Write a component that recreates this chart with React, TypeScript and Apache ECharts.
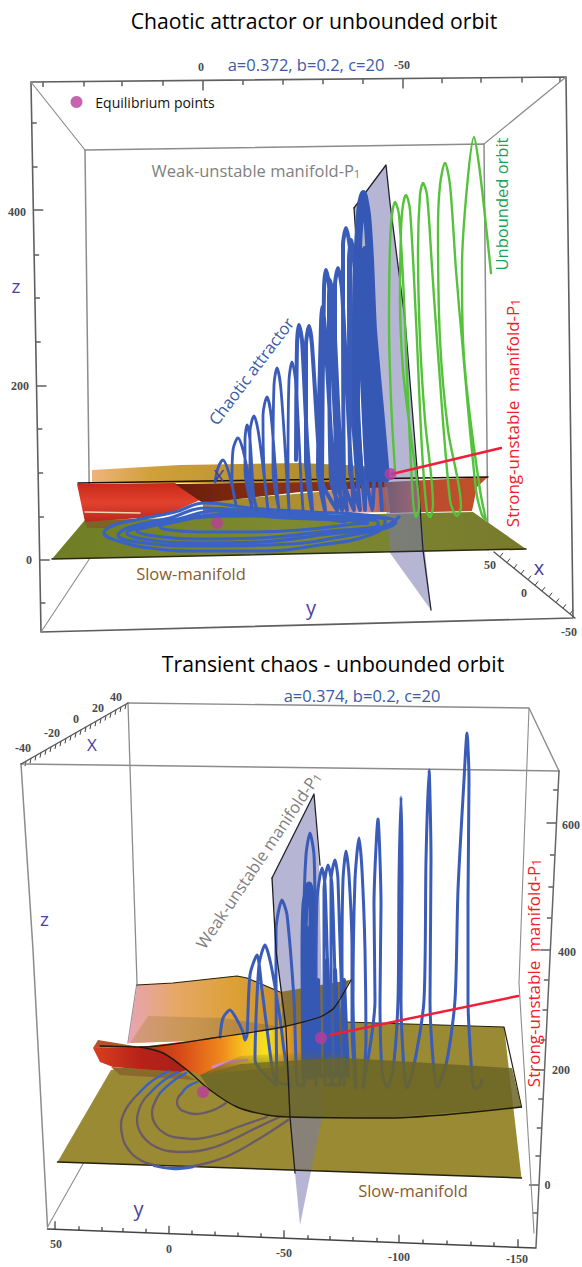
import React, { useEffect, useRef } from "react";
import * as echarts from "echarts";

type P = number[];

// ---------- tick labels and annotations ----------
const titleTop = "Chaotic attractor or unbounded orbit";
const titleBottom = "Transient chaos - unbounded orbit";
const paramsTop = "a=0.372, b=0.2, c=20";
const paramsBottom = "a=0.374, b=0.2, c=20";

// ---------- upper panel, projected (u, v) ----------
const topChaoticOrbit: P[] = [
  [215,482],[218,468],[223,460],[228,470],[233,490],[236,505],
  [232,480],[233,450],[238,438],[243,450],[248,475],[252,508],
  [245,470],[245,440],[247,425],[250,440],[254,500],[257,510],
  [250,470],[250,432],[254,416],[258,430],[264,475],[268,510],
  [264,470],[263,415],[267,397],[271,415],[277,490],[279,510],
  [273,470],[274,385],[277,368],[281,390],[287,480],[289,510],
  [288,470],[289,380],[292,362],[296,385],[301,480],[303,510],
];
const topThickOrbit: P[] = [
  [296,460],[297,345],[299,325],[302,340],[307,440],[312,510],
  [306,460],[306,345],[309,326],[312,345],[320,470],[325,510],
  [318,470],[321,325],[322,307],[325,330],[333,470],[337,510],
  [322,480],[324,290],[326,270],[329,285],[336,440],[342,510],
  [331,480],[329,300],[330,280],[333,300],[341,460],[347,510],
  [336,480],[335,285],[338,268],[342,290],[350,450],[354,510],
  [344,480],[343,245],[346,228],[350,250],[352,400],[360,510],
  [350,470],[349,260],[351,240],[355,270],[358,420],[365,510],
  [365,470],[372,510],[376,440],[382,510],
];
const topDenseOrbit: P[] = [
  [360,482],[356,400],[356,330],[357,270],[360,215],[363,194],[367,215],[370,260],[373,330],[381,420],[386,478],
  [380,478],[373,400],[368,320],[364,250],[362,320],[365,400],[370,478],[375,478],[368,380],[365,300],
];
const topSpiral: P[] = [
  [399,517],[370,535],[320,545],[260,551],[200,551],[150,548],[115,540],[104,533],[112,526],[140,519],[175,512],[205,503],[250,508],[310,512],[365,515],
  [396,522],[340,537],[270,545],[200,546],[145,543],[118,535],[130,527],[170,518],[205,508],[260,512],[330,516],[385,520],
  [385,524],[320,535],[260,542],[200,543],[150,540],[127,533],[142,527],[178,519],[215,511],[270,515],[335,518],[378,522],
  [378,525],[320,532],[260,538],[200,539],[155,536],[137,531],[152,526],[188,518],[228,514],[285,518],[340,520],[368,523],
  [355,524],[300,530],[250,532],[200,532],[170,530],[160,527],[175,522],[205,517],[250,516],[310,518],[345,522],
];
const topUnboundedOrbit: P[] = [
  [395,470],[391,400],[389,320],[390,245],[392,215],[395,202],[399,215],[404,300],[408,400],[413,500],[416,517],[419,508],
  [410,430],[403,370],[400,300],[401,230],[403,205],[406,195],[410,210],[416,320],[422,450],[427,512],[430,517],[433,505],
  [425,420],[420,340],[418,250],[420,195],[423,183],[427,195],[432,267],[437,340],[450,500],[457,516],[461,507],
  [448,430],[440,340],[438,230],[440,185],[445,163],[450,185],[456,270],[462,340],[476,490],[482,515],[486,520],[480,490],
  [468,400],[463,340],[462,267],[467,187],[474,137],[479,165],[484,207],[491,273],
];
const topPlane: P[] = [[52,559],[526,549],[473,512],[85,520]];
const topGold: P[] = [[92,470],[92,483],[388,483],[388,467],[300,463],[180,465]];
const topBelow: P[] = [[203,502],[388,486],[390,512],[203,515]];
const topLobe: P[] = [[77,484],[175,483],[200,500],[173,512],[140,518],[85,522]];
const topStrip: P[] = [[85,522],[135,519],[108,528],[87,528]];
const topWedge: P[] = [[175,484],[388,481],[388,487],[300,492],[203,503]];
const topRightRed: P[] = [[387,482],[488,477],[477,487],[472,511],[390,513]];
const topWeak: P[] = [[354,208],[386,165],[390,203],[405,320],[419,493],[431,610],[390,553],[383,470],[358,267]];
const topWeakEdgeA: P[] = [[354,208],[386,165],[390,203],[405,320],[419,493],[423,550],[431,610]];
const topWeakEdgeB: P[] = [[354,208],[358,267]];
const topFold: P[] = [[78,483],[280,480],[488,477]];
const topPlaneEdge: P[] = [[52,559],[526,549]];
const topEquilibria: P[] = [[76.5,102],[390.5,474],[217,523]];
const topStrongLine: P[] = [[392,474],[501,448]];
const topOuter: P[] = [[31,82],[566,77],[573,618],[41,632],[31,82]];
const topInner: P[] = [[85,150],[484,144],[488,550]];
const topInnerLeft: P[] = [[85,150],[90,553]];
const topDiagA: P[] = [[31,82],[85,150]];
const topDiagB: P[] = [[566,77],[484,144]];
const topDiagC: P[] = [[41,632],[90,558]];
const topZTickV = [123,167,210,255,298,342,386,429,473,517,560,603];
const topZTickMajor = [210,386,560];
const topUTick = [43,84,122,163,203,243,283,323,363,403,442,481,522,560];
const topUTickMajor = [203,403];
const topXAxis: P[] = [[494,552],[575,618]];

// ---------- lower panel ----------
const botOrbit: P[] = [
  [220,1037],[223,1018],[230,1010],[236,1018],[243,1032],[245,1040],
  [247,1035],[250,975],[257,955],[262,990],[272,1067],[276,1085],
  [255,1060],[259,965],[265,945],[271,965],[280,1018],[284,1050],[290,1085],
  [277,1080],[276,930],[282,900],[287,915],[294,1000],[298,1085],
  [304,1085],[304,920],[306,855],[310,833],[314,855],[315,920],[316,1085],
  [316,1000],[317,900],[322,868],[325,885],[329,1010],[333,1085],
  [325,1085],[324,890],[328,865],[332,885],[336,1010],[340,1085],
  [332,1085],[331,880],[335,860],[338,880],[344,1085],
  [342,960],[343,880],[346,851],[349,875],[352,950],[352,1030],[356,1088],
  [353,1000],[355,880],[359,838],[362,870],[365,950],[366,1040],[363,1088],
  [375,1000],[374,905],[378,819],[381,905],[380,1000],[382,1070],[387,1088],
  [393,1070],[398,1000],[399,880],[401,797],[402,880],[401,1000],[404,1070],[407,1088],
  [415,1060],[424,1000],[426,860],[429,770],[431,860],[430,1000],[433,1060],[437,1088],
  [447,1060],[455,1000],[458,890],[464,780],[467,733],[469,780],[468,900],[468,1000],[472,1077],[474,1088],[478,1088],[482,1080],
];
const botDense: P[] = [
  [305,1076],[304,960],[305,905],[309,885],[312,905],[312,960],[311,1076],[308,1076],[308,930],
];
const botCluster: P[] = [
  [316,1076],[318,980],[320,1076],[326,1076],[327,960],[330,1076],[336,1076],[335,970],[340,1076],[345,1076],[344,980],[348,1076],
];
const botRingsDim: P[][] = [
  [[182,1093],[178,1098],[177,1103],[180,1109],[186,1112],[195,1114],[204,1113],[216,1109],[226,1103]],
  [[160,1093],[155,1102],[152,1113],[154,1122],[160,1130],[170,1136],[182,1138],[195,1139],[208,1137],[223,1133],[238,1127],[267,1117]],
  [[150,1093],[143,1101],[139,1110],[137,1120],[139,1130],[146,1140],[156,1147],[168,1151],[182,1152],[198,1151],[215,1147],[234,1139],[252,1130],[288,1113]],
  [[139,1093],[130,1103],[124,1113],[121,1125],[122.5,1137],[128,1149],[137,1158],[154,1165],[174,1168],[199,1165],[223,1158],[238,1151],[252,1143],[270,1132],[288,1120]],
];
const botRingsBlue: P[][] = [
  [[182,1093],[187,1087],[197,1082]],
  [[160,1093],[172,1082],[186,1073]],
  [[150,1093],[163,1081],[178,1072]],
  [[139,1093],[152,1081],[169,1071]],
  [[154,1166],[174,1169],[193,1167]],
];
const botPlane: P[] = [[57.5,1162],[521.5,1178],[504,1027],[345,1022],[111,1070]];
const botBackRight: P[] = [[280,992],[350,980],[337,1003],[323,1017],[283,1028]];
const botBack: P[] = [[137,985],[173,983],[237,976],[247,978],[280,992],[283,1028],[220,1040],[128,1043]];
const botBackInner: P[] = [[148,1016],[223,1018],[283,1027],[220,1040],[130,1043]];
const botHot: P[] = [[140,1047],[213,1038],[283,1027],[320,1017],[340,1000],[345,1060],[200,1075],[187,1070]];
const botLobe: P[] = [[93,1048],[140,1047],[163,1053],[187,1070],[180,1072],[113,1067],[100,1062]];
const botFlap: P[] = [[98,1040],[128,1045],[140,1047],[93,1048]];
const botStrip: P[] = [[111,1067],[180,1072],[196,1080],[120,1075]];
const botFade: P[] = [[200,1075],[240,1056],[345,1050],[345,1060],[240,1064]];
const botBand: P[] = [[200,1075],[240,1064],[270,1062],[343,1058],[380,1060],[512,1068],[521.5,1107],[387,1118],[290,1117],[267,1115],[237,1107],[210,1090]];
const botWeak: P[] = [[272,878],[314,794],[319,867],[322,1000],[321,1122],[300,1225],[295,1173],[290,1117]];
const botWeakEdgeA: P[] = [[272,878],[314,794],[320,865]];
const botWeakEdgeB: P[] = [[272,878],[276,950],[286,1028],[290,1117],[295,1173]];
const botSCurve: P[] = [[140,1047],[163,1053],[187,1070],[210,1090],[237,1107],[267,1115],[290,1117],[387,1118],[521.5,1107]];
const botFoldTop: P[] = [[100,1046],[143,1047],[213,1038],[283,1027],[320,1017],[334,1008],[351,980]];
const botBackTop: P[] = [[137,985],[173,983],[237,976],[247,978],[280,992]];
const botPlaneBottom: P[] = [[57.5,1162],[521.5,1178]];
const botPlaneTop: P[] = [[345,1022],[504,1027],[521.5,1107]];
const botPink: P[] = [[213,1067],[228,1062],[247,1060]];
const botEquilibria: P[] = [[321,1038],[203,1092]];
const botStrongLine: P[] = [[330,1035],[518,996]];
const botFrontFrame: P[] = [[21,764],[559,771]];
const botBackFrame: P[] = [[128,703],[529,708],[559,771]];
const botLeft: P[] = [[21,764],[33,950],[47.5,1227]];
const botRight: P[] = [[559,771],[536,1247]];
const botBackLeft: P[] = [[128,703],[130,767],[137,983],[128,1043]];
const botBackRightEdge: P[] = [[529,708],[519,983],[534,1233]];
const botBottom: P[] = [[47.5,1229],[536,1248]];
const botDiag: P[] = [[47.5,1227],[83.5,1163]];
const botXAxis: P[] = [[21,764],[128,703]];
const botZTickV = [790,823,855,887,918,950,980,1010,1040,1070,1099,1128,1156,1185,1213];
const botZTickMajor = [823,950,1070,1185];
const botUTick = [55,79,102,123,146,169,192,215,238,261,284,308,330,353,377,399,423,447,471,494,518];
const botUTickMajor = [55,169,284,399,518];

const PURPLE = "#4a3fa0";
const BLUE = "#3a5cb8";
const AXISC = "#8c8c8c";

const line = (data: P[], color: string, width: number, z: number, smooth: number | boolean = false, opacity = 1) => ({
  type: "line", data, symbol: "none", smooth, z, silent: true,
  lineStyle: { color, width, opacity, cap: "round", join: "round" },
});
const poly = (pts: P[], fill: any, z: number, opacity = 1) => ({
  type: "custom", coordinateSystem: "cartesian2d", data: pts, z, silent: true,
  encode: { x: 0, y: 1 },
  renderItem: (params: any, api: any) => {
    if (params.dataIndex !== 0) return null;
    return { type: "polygon", shape: { points: pts.map((p) => api.coord(p)) }, style: { fill, opacity } };
  },
});
const segs = (data: P[], color: string, width: number, z: number) => ({
  type: "custom", coordinateSystem: "cartesian2d", data, z, silent: true,
  encode: { x: [0, 2], y: [1, 3] },
  renderItem: (_: any, api: any) => {
    const a = api.coord([api.value(0), api.value(1)]);
    const b = api.coord([api.value(2), api.value(3)]);
    return { type: "line", shape: { x1: a[0], y1: a[1], x2: b[0], y2: b[1] }, style: { stroke: color, lineWidth: width } };
  },
});
const dots = (data: P[]) => ({
  type: "scatter", data, symbol: "circle", symbolSize: 12, z: 30, silent: true,
  itemStyle: { color: "#b93c9c" },
});
const grad = (stops: [number, string][], vertical = false) =>
  new echarts.graphic.LinearGradient(0, 0, vertical ? 0 : 1, vertical ? 1 : 0, stops.map(([offset, color]) => ({ offset, color })));

const lerp = (a: P, b: P, v: number) => a[0] + ((b[0] - a[0]) * (v - a[1])) / (b[1] - a[1]);
const lerpY = (a: P, b: P, u: number) => a[1] + ((b[1] - a[1]) * (u - a[0])) / (b[0] - a[0]);

const txt = (text: string, x: number, y: number, size: number, fill: string, extra: any = {}) => ({
  type: "text", x, y, z: 50, silent: true, rotation: extra.rotation || 0,
  style: {
    text, fill, font: `${extra.weight || "normal"} ${size}px ${extra.family || "'Open Sans', sans-serif"}`,
    align: "center", verticalAlign: "middle", rich: extra.rich,
  },
});
const sub = (text: string, x: number, y: number, size: number, fill: string, rotation: number) =>
  txt(`{m|${text}}{s|1}`, x, y, size, fill, {
    rotation,
    rich: {
      m: { fontSize: size, fill, fontFamily: "'Open Sans', sans-serif" },
      s: { fontSize: size - 5, fill, fontFamily: "'Open Sans', sans-serif", verticalAlign: "bottom", padding: [6, 0, 0, 0] },
    },
  });
const num = (t: string, x: number, y: number) => txt(t, x, y, 12, "#4a4a4a", { family: "'Liberation Serif', serif", weight: "bold" });

export default function App() {
  const ref = useRef<HTMLDivElement>(null);
  useEffect(() => {
    const chart = echarts.init(ref.current!, undefined, { renderer: "svg" });

    const topZTicks = topZTickV.map((v) => {
      const u = lerp(topOuter[3], topOuter[0], v);
      return [u, v, u + (topZTickMajor.includes(v) ? 10 : 5), v];
    });
    const topUTicks = topUTick.map((u) => {
      const v = lerpY(topOuter[0], topOuter[1], u);
      return [u, v, u, v + (topUTickMajor.includes(u) ? 10 : 5)];
    });
    const topXTicks = [500,507,514,521,528,535,542,549,556,563,570].map((u) => {
      const v = lerpY(topXAxis[0], topXAxis[1], u);
      return [u, v, u + 3, v - 4];
    });
    const botZTicks = botZTickV.map((v) => {
      const u = lerp(botRight[0], botRight[1], v);
      return [u, v, u - (botZTickMajor.includes(v) ? 10 : 5), v];
    });
    const botUTicks = botUTick.map((u) => {
      const v = lerpY(botBottom[0], botBottom[1], u);
      return [u, v, u, v - (botUTickMajor.includes(u) ? 8 : 4)];
    });
    const botXTicks = [26,31,36,41,46,51,56,61,66,71,76,81,86,91,96,101,106,111,116,121,126].map((u) => {
      const v = lerpY(botXAxis[0], botXAxis[1], u);
      return [u, v, u - 1, v + 5];
    });

    const series: any[] = [
      // upper panel frame
      line(topOuter, "#5f5f5f", 1.6, 1), line(topInner, AXISC, 1.5, 1), line(topInnerLeft, AXISC, 1.5, 1),
      line(topDiagA, AXISC, 1.2, 1), line(topDiagB, AXISC, 1.2, 1), line(topDiagC, AXISC, 1.1, 1),
      line(topXAxis, "#555555", 1.3, 1),
      segs(topZTicks, "#444444", 1.3, 1), segs(topUTicks, "#444444", 1.3, 1), segs(topXTicks, "#444444", 1, 1),
      // upper panel surfaces
      poly(topPlane, grad([[0, "#6f7d24"], [0.5, "#7d8a30"], [1, "#787a2c"]]), 2),
      poly(topGold, grad([[0, "#efb47a"], [0.2, "#d0a03a"], [1, "#a08428"]]), 3),
      poly(topBelow, grad([[0, "#9a8a30"], [0.55, "#b09030"], [0.85, "#d890a0"], [1, "#a84c2c"]]), 3),
      poly(topStrip, "#7a6428", 3),
      poly(topLobe, grad([[0, "#c9281a"], [0.5, "#e2422e"], [1, "#b8281c"]], true), 4),
      poly(topWedge, grad([[0, "#6a1c0c"], [0.5, "#8a3012"], [1, "#7a2e14"]]), 4),
      poly(topRightRed, grad([[0, "#6e3c28"], [0.25, "#b84a30"], [1, "#c25028"]]), 4),
      line([[85,512],[140,513]], "#f3d3b3", 1.5, 4),
      poly(topWeak, "#7a7ab0", 5, 0.55),
      line(topPlaneEdge, "#2a2a10", 1.5, 5),
      line(topFold, "#1a1208", 1.5, 6),
      line(topWeakEdgeA, "#22222c", 1.3, 6), line(topWeakEdgeB, "#22222c", 1.3, 6),
      line(topSpiral, "#3a62c4", 3.2, 7, 0.45),
      line(topChaoticOrbit, BLUE, 2.8, 8, 0.3),
      line(topThickOrbit, BLUE, 4, 8, 0.25),
      line(topDenseOrbit, "#3558b4", 8, 8, 0.2),
      line(topUnboundedOrbit, "#55c23c", 2.4, 9, 0.3),
      line(topStrongLine, "#f01e38", 2.5, 10),
      dots(topEquilibria),
      // lower panel frame
      line(botFrontFrame, AXISC, 1.5, 1), line(botBackFrame, AXISC, 1.4, 1), line(botLeft, AXISC, 1.5, 1),
      line(botRight, "#666666", 1.5, 1), line(botBackLeft, AXISC, 1.3, 1), line(botBackRightEdge, AXISC, 1.1, 1),
      line(botBottom, "#444444", 1.5, 1), line(botDiag, AXISC, 1.1, 1), line(botXAxis, "#555555", 1.3, 1),
      segs(botZTicks, "#444444", 1.3, 1), segs(botUTicks, "#444444", 1.3, 1), segs(botXTicks, "#444444", 1, 1),
      // lower panel surfaces
      poly(botPlane, "#9a8a34", 2),
      line(botPlaneBottom, "#24200c", 1.5, 3), line(botPlaneTop, "#24200c", 1.2, 3),
      poly(botWeak, "#7a7ab0", 3, 0.55),
      poly(botBack, grad([[0, "#e8a4b4"], [0.3, "#e6a868"], [0.7, "#dca034"], [1, "#c89030"]]), 4),
      poly(botBackInner, grad([[0, "#d49a80"], [0.4, "#c89650"], [1, "#a87c34"]]), 4),
      poly(botBackRight, grad([[0, "#8e7436"], [1, "#7e6a2a"]]), 4),
      poly(botStrip, "#8a6a2a", 4),
      poly(botHot, grad([[0, "#b02818"], [0.2, "#d84a18"], [0.4, "#ef8a1c"], [0.5, "#f5c020"], [0.62, "#f6e21e"], [0.72, "#e09a28"], [0.85, "#8a6e2a"], [1, "#6f6428"]]), 5),
      poly(botFlap, "#b8502c", 5),
      poly(botLobe, grad([[0, "#d8401f"], [0.5, "#b82218"], [1, "#a8201a"]]), 6),
      line(botPink, "#d88ac0", 3, 6),
      line(botWeakEdgeA, "#22222c", 1.3, 7), line(botWeakEdgeB, "#1c1c24", 1.3, 12),
      ...botRingsDim.map((r) => line(r, "#6a5a68", 2.3, 7, 0.5)),
      ...botRingsBlue.map((r) => line(r, "#3a62c4", 2.3, 7, 0.4)),
      line(botOrbit, BLUE, 3, 8, 0.25),
      line(botDense, "#3558b4", 7, 8, 0.2),
      line(botCluster, "#3558b4", 4, 8),
      poly(botFade, grad([[0, "rgba(107,101,38,0)"], [1, "rgba(107,101,38,0.85)"]], true), 9),
      poly(botBand, "#6b6526", 10, 0.85),
      line(botSCurve, "#1e1a08", 1.4, 11, 0.3),
      line(botFoldTop, "#1e1a08", 1.3, 11, 0.2),
      line(botBackTop, "#2a2008", 1.1, 5),
      line(botStrongLine, "#f01e38", 2.5, 12),
      dots(botEquilibria),
    ];

    chart.setOption({
      animation: false,
      grid: { left: 0, right: 0, top: 0, bottom: 0 },
      xAxis: { type: "value", min: 0, max: 582, show: false },
      yAxis: { type: "value", min: 0, max: 1267, inverse: true, show: false },
      series,
      graphic: [
        txt(titleTop, 314, 20, 21.2, "#000000"),
        txt(paramsTop, 306, 64, 16.5, "#3a5ba8"),
        txt("Equilibrium points", 155, 102, 14, "#111111"),
        sub("Weak-unstable manifold-P", 256, 170, 16.5, "#7f7f7f", 0),
        txt("Unbounded orbit", 501, 204, 16.5, "#1ea055", { rotation: Math.PI / 2 }),
        sub("Strong-unstable  manifold-P", 512, 413, 17, "#f0202a", Math.PI / 2),
        txt("Chaotic attractor", 251, 371, 16.5, "#3a5ba8", { rotation: (53 * Math.PI) / 180 }),
        txt("z", 16, 286, 19, PURPLE), txt("x", 219, 473, 22, PURPLE),
        txt("y", 311, 607, 20, PURPLE), txt("x", 539, 567, 20, PURPLE),
        txt("Slow-manifold", 191, 573, 16.5, "#8a5a2b"),
        num("0", 201, 67), num("-50", 402, 65), num("400", 17, 212), num("200", 20, 386), num("0", 29, 560),
        num("50", 490, 565), num("0", 524, 593), num("-50", 569, 632),

        txt(titleBottom, 333, 663, 21.2, "#000000"),
        txt(paramsBottom, 362, 695, 16.5, "#3a5ba8"),
        sub("Weak-unstable manifold-P", 258, 860, 16.5, "#7f7f7f", (56 * Math.PI) / 180),
        sub("Strong-unstable  manifold-P", 533, 973, 17, "#f0202a", Math.PI / 2),
        txt("X", 92, 744, 17, PURPLE), txt("z", 44.5, 919, 19, PURPLE), txt("y", 138.5, 1208, 20, PURPLE),
        txt("Slow-manifold", 413, 1190, 16.5, "#8a5a2b"),
        num("-40", 23, 748), num("-20", 52, 733), num("0", 76, 719), num("20", 98, 708), num("40", 116, 697),
        num("600", 571, 825), num("400", 567, 952), num("200", 561, 1070), num("0", 547.5, 1185),
        num("50", 56, 1244), num("0", 169, 1249), num("-50", 284, 1253), num("-100", 399, 1257), num("-150", 517, 1259),
      ],
    });
    return () => chart.dispose();
  }, []);
  return <div ref={ref} style={{ position: "absolute", left: 0, top: 0, width: 582, height: 1267, background: "#ffffff" }} />;
}
